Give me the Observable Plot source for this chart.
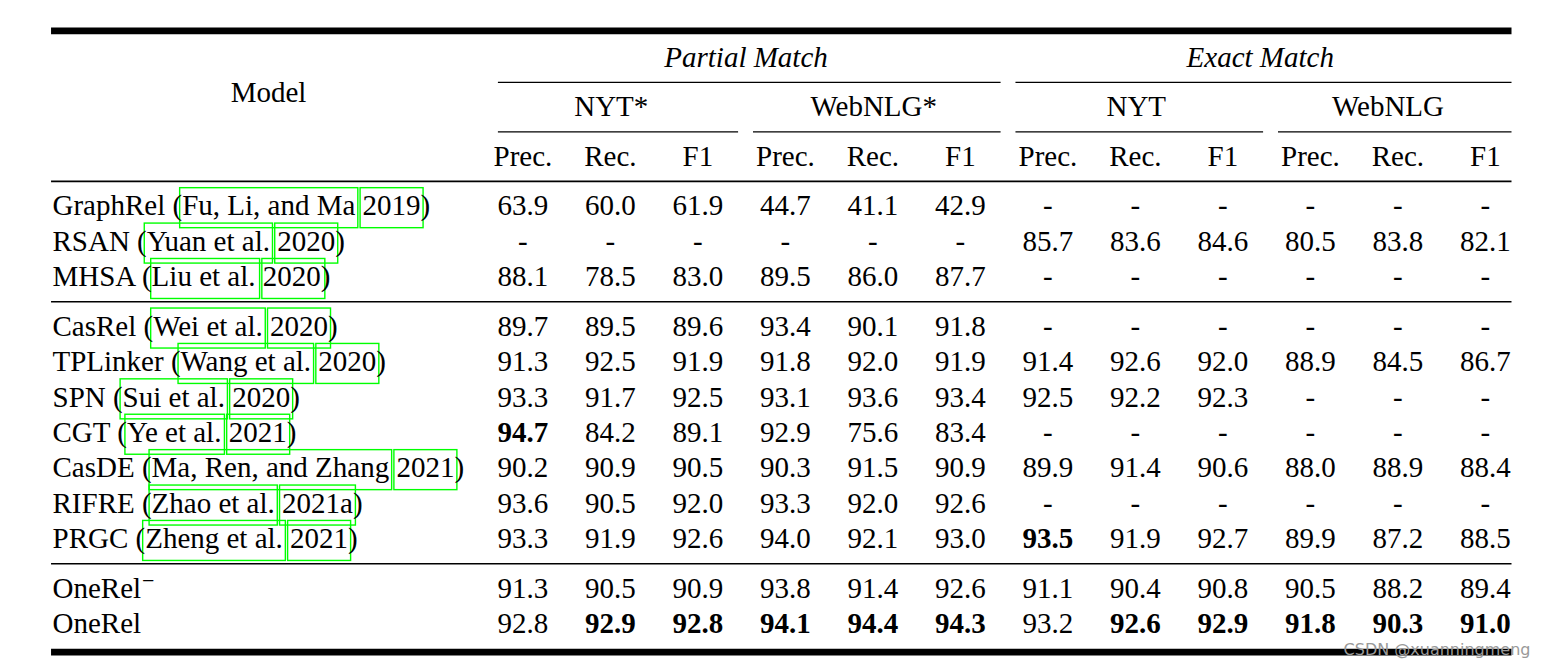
<!DOCTYPE html>
<html><head><meta charset="utf-8">
<script src="https://cdn.jsdelivr.net/npm/d3@7"></script>
<script src="https://cdn.jsdelivr.net/npm/@observablehq/plot@0.6"></script>
<style>html,body{margin:0;padding:0;background:#fff;}</style>
</head><body><div id="chart"></div>
<script>
// ---------------- data ----------------
const matchTypes = ["Partial Match", "Exact Match"];
const datasets = ["NYT*", "WebNLG*", "NYT", "WebNLG"];
const metrics = ["Prec.", "Rec.", "F1"];
const models = ["GraphRel", "RSAN", "MHSA", "CasRel", "TPLinker", "SPN", "CGT", "CasDE", "RIFRE", "PRGC", "OneRel", "OneRel"];
const modelSup = ["", "", "", "", "", "", "", "", "", "", "\u2212", ""];
const citeAuthors = ["Fu, Li, and Ma", "Yuan et al.", "Liu et al.", "Wei et al.", "Wang et al.", "Sui et al.", "Ye et al.", "Ma, Ren, and Zhang", "Zhao et al.", "Zheng et al.", null, null];
const citeYears = ["2019", "2020", "2020", "2020", "2020", "2020", "2021", "2021", "2021a", "2021", null, null];
const rowGroup = [0, 0, 0, 1, 1, 1, 1, 1, 1, 1, 2, 2];
const scores = [
  [63.9, 60.0, 61.9, 44.7, 41.1, 42.9, null, null, null, null, null, null],
  [null, null, null, null, null, null, 85.7, 83.6, 84.6, 80.5, 83.8, 82.1],
  [88.1, 78.5, 83.0, 89.5, 86.0, 87.7, null, null, null, null, null, null],
  [89.7, 89.5, 89.6, 93.4, 90.1, 91.8, null, null, null, null, null, null],
  [91.3, 92.5, 91.9, 91.8, 92.0, 91.9, 91.4, 92.6, 92.0, 88.9, 84.5, 86.7],
  [93.3, 91.7, 92.5, 93.1, 93.6, 93.4, 92.5, 92.2, 92.3, null, null, null],
  [94.7, 84.2, 89.1, 92.9, 75.6, 83.4, null, null, null, null, null, null],
  [90.2, 90.9, 90.5, 90.3, 91.5, 90.9, 89.9, 91.4, 90.6, 88.0, 88.9, 88.4],
  [93.6, 90.5, 92.0, 93.3, 92.0, 92.6, null, null, null, null, null, null],
  [93.3, 91.9, 92.6, 94.0, 92.1, 93.0, 93.5, 91.9, 92.7, 89.9, 87.2, 88.5],
  [91.3, 90.5, 90.9, 93.8, 91.4, 92.6, 91.1, 90.4, 90.8, 90.5, 88.2, 89.4],
  [92.8, 92.9, 92.8, 94.1, 94.4, 94.3, 93.2, 92.6, 92.9, 91.8, 90.3, 91.0]
];
// [row, column] of the bold (best) values
const boldCells = [[6, 0], [9, 6], [11, 1], [11, 2], [11, 3], [11, 4], [11, 5], [11, 7], [11, 8], [11, 9], [11, 10], [11, 11]];
const watermark = "CSDN @xuanningmeng";

// ---------------- layout ----------------
const W = 1541, H = 664;
const FONT = "Liberation Serif", FS = 29;
const UX = 87.5, UY = 35.4;          // px per column / per text line
const COL0 = 522.4, ROW0 = 57;       // px of first numeric column / first header line
const tableLeft = -5.387, textLeft = -5.376, modelHeaderX = -2.907, tableRight = 11.304;
const trim = 0.085;
const groupLeft = g => 3 * g - 0.45;
const groupRight = g => g === 3 ? tableRight : 3 * g + 2.55;
const ruleLeft = g => g === 0 ? -0.28 : groupLeft(g) + trim;
const ruleRight = g => g === 3 ? tableRight : groupRight(g) - trim;
const rowY = i => 4.2 + i + 0.4 * rowGroup[i];

const ctx = document.createElement("canvas").getContext("2d");
ctx.font = `${FS}px "${FONT}"`;
const tw = s => ctx.measureText(s).width;

// header labels
const headerTexts = [
  ...matchTypes.map((m, k) => ({label: m, x: (groupLeft(2 * k) + groupRight(2 * k + 1)) / 2, y: 0, italic: true})),
  ...datasets.map((d, g) => ({label: d, x: (groupLeft(g) + groupRight(g)) / 2 - 0.04, y: 1.4, italic: false})),
  ...datasets.flatMap((d, g) => metrics.map((m, k) => ({label: m, x: 3 * g + k, y: 2.8, italic: false}))),
  {label: "Model", x: modelHeaderX, y: 1.0, italic: false}
];

// rules
const thickRules = [
  {y: -0.75, x1: tableLeft, x2: tableRight},
  {y: rowY(models.length - 1) + 0.8, x1: tableLeft, x2: tableRight}
];
const midRules = [
  {y: 3.5, x1: tableLeft, x2: tableRight},
  {y: rowY(2) + 0.7, x1: tableLeft, x2: tableRight},
  {y: rowY(9) + 0.7, x1: tableLeft, x2: tableRight}
];
const cmidRules = [
  ...matchTypes.map((m, k) => ({y: 0.7, x1: ruleLeft(2 * k), x2: ruleRight(2 * k + 1)})),
  ...datasets.map((d, g) => ({y: 2.1, x1: ruleLeft(g), x2: ruleRight(g)}))
];

// model names and citation boxes
const modelTexts = models.map((m, i) => ({
  label: citeAuthors[i] ? `${m} (${citeAuthors[i]} ${citeYears[i]})` : m,
  x: textLeft, y: rowY(i)
}));
const supTexts = models.map((m, i) => ({label: modelSup[i], x: textLeft + (tw(m) + 1) / UX, y: rowY(i)})).filter(d => d.label);
const boxes = [];
models.forEach((m, i) => {
  if (!citeAuthors[i]) return;
  const s1 = tw(`${m} (`), a = tw(citeAuthors[i]), sp = tw(" "), yr = tw(citeYears[i]);
  const yy1 = rowY(i) - 18 / UY, yy2 = rowY(i) + 22 / UY;
  boxes.push({x1: textLeft + (s1 - 2) / UX, x2: textLeft + (s1 + a + 3) / UX, y1: yy1, y2: yy2});
  const s2 = s1 + a + sp;
  boxes.push({x1: textLeft + (s2 - 2) / UX, x2: textLeft + (s2 + yr + 3) / UX, y1: yy1, y2: yy2});
});

// cells
const cells = scores.flatMap((row, i) => row.map((v, j) => ({
  x: j, y: rowY(i), label: v == null ? "-" : v.toFixed(1),
  bold: boldCells.some(([r, c]) => r === i && c === j)
})));

const textOpts = {x: "x", y: "y", text: "label", fontFamily: FONT, fontSize: FS, fill: "black", lineAnchor: "middle"};

const chart = Plot.plot({
  width: W, height: H,
  margin: 0,
  style: {background: "white", fontFamily: FONT},
  x: {domain: [-COL0 / UX, (W - COL0) / UX], range: [0, W], axis: null},
  y: {domain: [-ROW0 / UY, (H - ROW0) / UY], range: [0, H], axis: null},
  marks: [
    Plot.rect(boxes, {x1: "x1", x2: "x2", y1: "y1", y2: "y2", fill: "none", stroke: "#00ff00", strokeWidth: 1.4}),
    Plot.ruleY(thickRules, {y: "y", x1: "x1", x2: "x2", stroke: "black", strokeWidth: 6.7}),
    Plot.ruleY(midRules, {y: "y", x1: "x1", x2: "x2", stroke: "black", strokeWidth: 1.6}),
    Plot.ruleY(cmidRules, {y: "y", x1: "x1", x2: "x2", stroke: "black", strokeWidth: 1.3}),
    Plot.text(headerTexts.filter(d => d.italic), {...textOpts, fontStyle: "italic"}),
    Plot.text(headerTexts.filter(d => !d.italic), textOpts),
    Plot.text(modelTexts, {...textOpts, textAnchor: "start"}),
    Plot.text(supTexts, {...textOpts, textAnchor: "start", fontSize: 22, dy: -8}),
    Plot.text(cells.filter(d => !d.bold), textOpts),
    Plot.text(cells.filter(d => d.bold), {...textOpts, fontWeight: "bold"}),
    Plot.text([watermark], {x: () => 11.515, y: () => 16.72, text: d => d, textAnchor: "end", lineAnchor: "middle",
      fontFamily: "DejaVu Sans", fontSize: 16, fill: "#999999"})
  ]
});
document.getElementById("chart").appendChild(chart);
</script>
</body></html>
